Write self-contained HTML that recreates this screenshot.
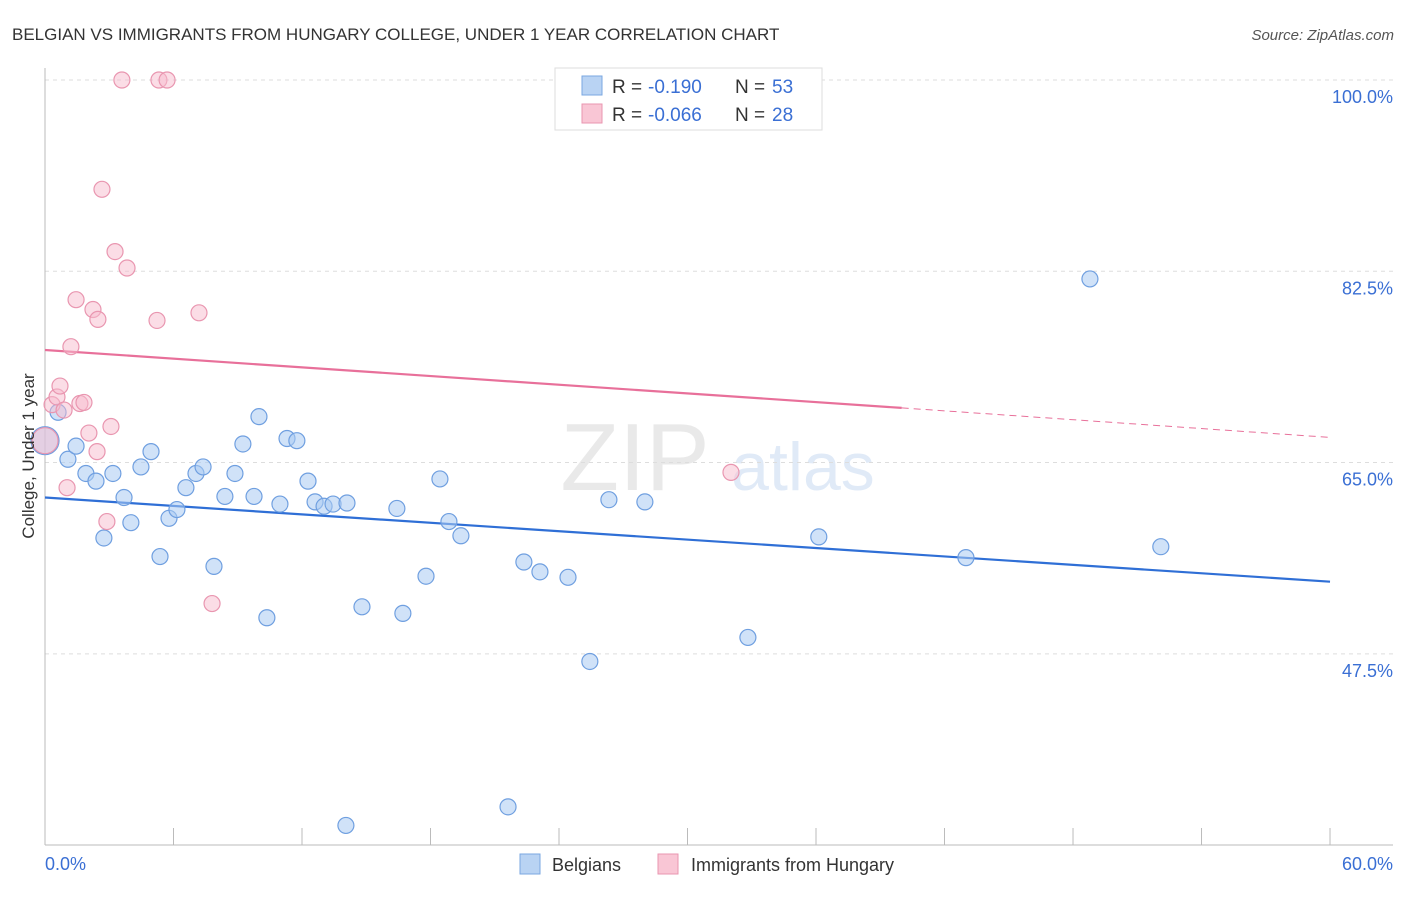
<!DOCTYPE html>
<html><head><meta charset="utf-8"><style>
body{margin:0;background:#fff;font-family:"Liberation Sans",sans-serif;}
svg text{font-family:"Liberation Sans",sans-serif;}
</style></head><body>
<svg id="chart" width="1406" height="892" viewBox="0 0 1406 892">
<text x="12" y="40" font-size="17" fill="#333">BELGIAN VS IMMIGRANTS FROM HUNGARY COLLEGE, UNDER 1 YEAR CORRELATION CHART</text>
<text x="1394" y="40" font-size="15" fill="#555" text-anchor="end" font-style="italic">Source: ZipAtlas.com</text>
<g opacity="0.18">
<text x="635" y="490" font-size="96" font-family="Liberation Serif" fill="#888" text-anchor="middle">ZIP</text>
<text x="803" y="490" font-size="68" fill="#5b8fd8" text-anchor="middle">atlas</text>
</g>
<g id="grid"></g>
<g id="axes"></g>
<g id="trends"></g>
<g id="points"></g>
<text transform="translate(34,456) rotate(-90)" font-size="17" fill="#333" text-anchor="middle">College, Under 1 year</text>
<text x="45" y="870" font-size="18" fill="#3a6fd4">0.0%</text>
<text x="1393" y="870" font-size="18" fill="#3a6fd4" text-anchor="end">60.0%</text>
<g>
<rect x="555" y="68" width="267" height="62" fill="#fff" stroke="#ddd"/>
<rect x="582" y="76" width="20" height="19" fill="#b9d3f3" stroke="#7aa7e0"/>
<rect x="582" y="104" width="20" height="19" fill="#f9c6d5" stroke="#e996b0"/>
<text x="612" y="93" font-size="19" fill="#333">R =</text>
<text x="648" y="93" font-size="19" fill="#3a6fd4">-0.190</text>
<text x="735" y="93" font-size="19" fill="#333">N =</text>
<text x="772" y="93" font-size="19" fill="#3a6fd4">53</text>
<text x="612" y="121" font-size="19" fill="#333">R =</text>
<text x="648" y="121" font-size="19" fill="#3a6fd4">-0.066</text>
<text x="735" y="121" font-size="19" fill="#333">N =</text>
<text x="772" y="121" font-size="19" fill="#3a6fd4">28</text>
</g>
<g>
<rect x="520" y="854" width="20" height="20" fill="#b9d3f3" stroke="#7aa7e0"/>
<text x="552" y="871" font-size="18" fill="#333">Belgians</text>
<rect x="658" y="854" width="20" height="20" fill="#f9c6d5" stroke="#e996b0"/>
<text x="691" y="871" font-size="18" fill="#333">Immigrants from Hungary</text>
</g>
</svg>
<script>
const yTicks=[100,82.5,65,47.5];
const yTickLabels=["100.0%","82.5%","65.0%","47.5%"];
const xTicks=[0,6,12,18,24,30,36,42,48,54,60];
const belgX=[0,0.61,1.07,1.45,1.91,2.38,2.75,3.17,3.69,4.01,4.48,4.95,5.37,5.79,6.16,6.58,7.05,7.38,7.89,8.40,8.87,9.24,9.76,9.99,10.36,10.97,11.30,11.76,12.28,12.61,13.03,13.45,14.10,14.05,14.80,16.43,16.71,17.79,18.44,18.86,19.42,21.62,22.36,23.11,24.42,25.44,26.33,28.01,32.82,36.13,43.0,48.79,52.1];
const belgY=[67.0,69.6,65.3,66.5,64.0,63.3,58.1,64.0,61.8,59.5,64.6,66.0,56.4,59.9,60.7,62.7,64.0,64.6,55.5,61.9,64.0,66.7,61.9,69.2,50.8,61.2,67.2,67.0,63.3,61.4,61.0,61.2,61.3,31.8,51.8,60.8,51.2,54.6,63.5,59.6,58.3,33.5,55.9,55.0,54.5,46.8,61.6,61.4,49.0,58.2,56.3,81.8,57.3];
const hunX=[0,0.33,0.56,0.70,0.89,1.03,1.21,1.45,1.63,1.82,2.05,2.24,2.43,2.47,2.66,2.89,3.08,3.27,3.59,3.83,5.23,5.32,5.70,7.19,7.80,32.03];
const hunY=[67.0,70.3,71.0,72.0,69.8,62.7,75.6,79.9,70.4,70.5,67.7,79.0,66.0,78.1,90.0,59.6,68.3,84.3,100,82.8,78.0,100,100,78.7,52.1,64.1];
const belgTrend=[61.8,54.1];
const hunTrend=[75.3,70.0,67.3];
const hunTrendX=[0,40,60];

const NS="http://www.w3.org/2000/svg";
const X=v=>45+v*21.417, Y=v=>80+(100-v)*10.93;
function mk(tag,attrs,parent){const e=document.createElementNS(NS,tag);for(const k in attrs)e.setAttribute(k,attrs[k]);document.getElementById(parent).appendChild(e);return e;}
yTicks.forEach((t,i)=>{
 const l=mk('line',{x1:45,x2:1393,y1:Y(t),y2:Y(t),stroke:'#ddd','stroke-dasharray':'4,4'},'grid');
 
 
 const tx=mk('text',{x:1393,y:Y(t)+23,'font-size':18,fill:'#3a6fd4','text-anchor':'end'},'grid');
 tx.textContent=yTickLabels[i];
 
 
});
let ax=mk('line',{x1:45,x2:45,y1:68,y2:845,stroke:'#bbb'},'axes');


ax=mk('line',{x1:45,x2:1393,y1:845,y2:845,stroke:'#bbb'},'axes');


xTicks.forEach(t=>{
 const l=mk('line',{x1:X(t),x2:X(t),y1:828,y2:845,stroke:'#bbb'},'axes');
 
 
});
let tl=mk('line',{x1:X(0),y1:Y(belgTrend[0]),x2:X(60),y2:Y(belgTrend[1]),stroke:'#2f6fd6','stroke-width':2.2},'trends');


tl=mk('line',{x1:X(hunTrendX[0]),y1:Y(hunTrend[0]),x2:X(hunTrendX[1]),y2:Y(hunTrend[1]),stroke:'#e8709a','stroke-width':2.2},'trends');


tl=mk('line',{x1:X(hunTrendX[1]),y1:Y(hunTrend[1]),x2:X(hunTrendX[2]),y2:Y(hunTrend[2]),stroke:'#e8709a','stroke-width':1,'stroke-dasharray':'7,5'},'trends');


belgX.forEach((x,i)=>{
 const c=mk('circle',{cx:X(x),cy:Y(belgY[i]),r:i==0?14:8,fill:'rgba(170,202,242,0.55)',stroke:'#6f9fe0','stroke-width':1.2},'points');
 
 
});
hunX.forEach((x,i)=>{
 const c=mk('circle',{cx:X(x),cy:Y(hunY[i]),r:i==0?13:8,fill:'rgba(247,188,206,0.5)',stroke:'#e996b0','stroke-width':1.2},'points');
 
 
});
</script>
</body></html>
